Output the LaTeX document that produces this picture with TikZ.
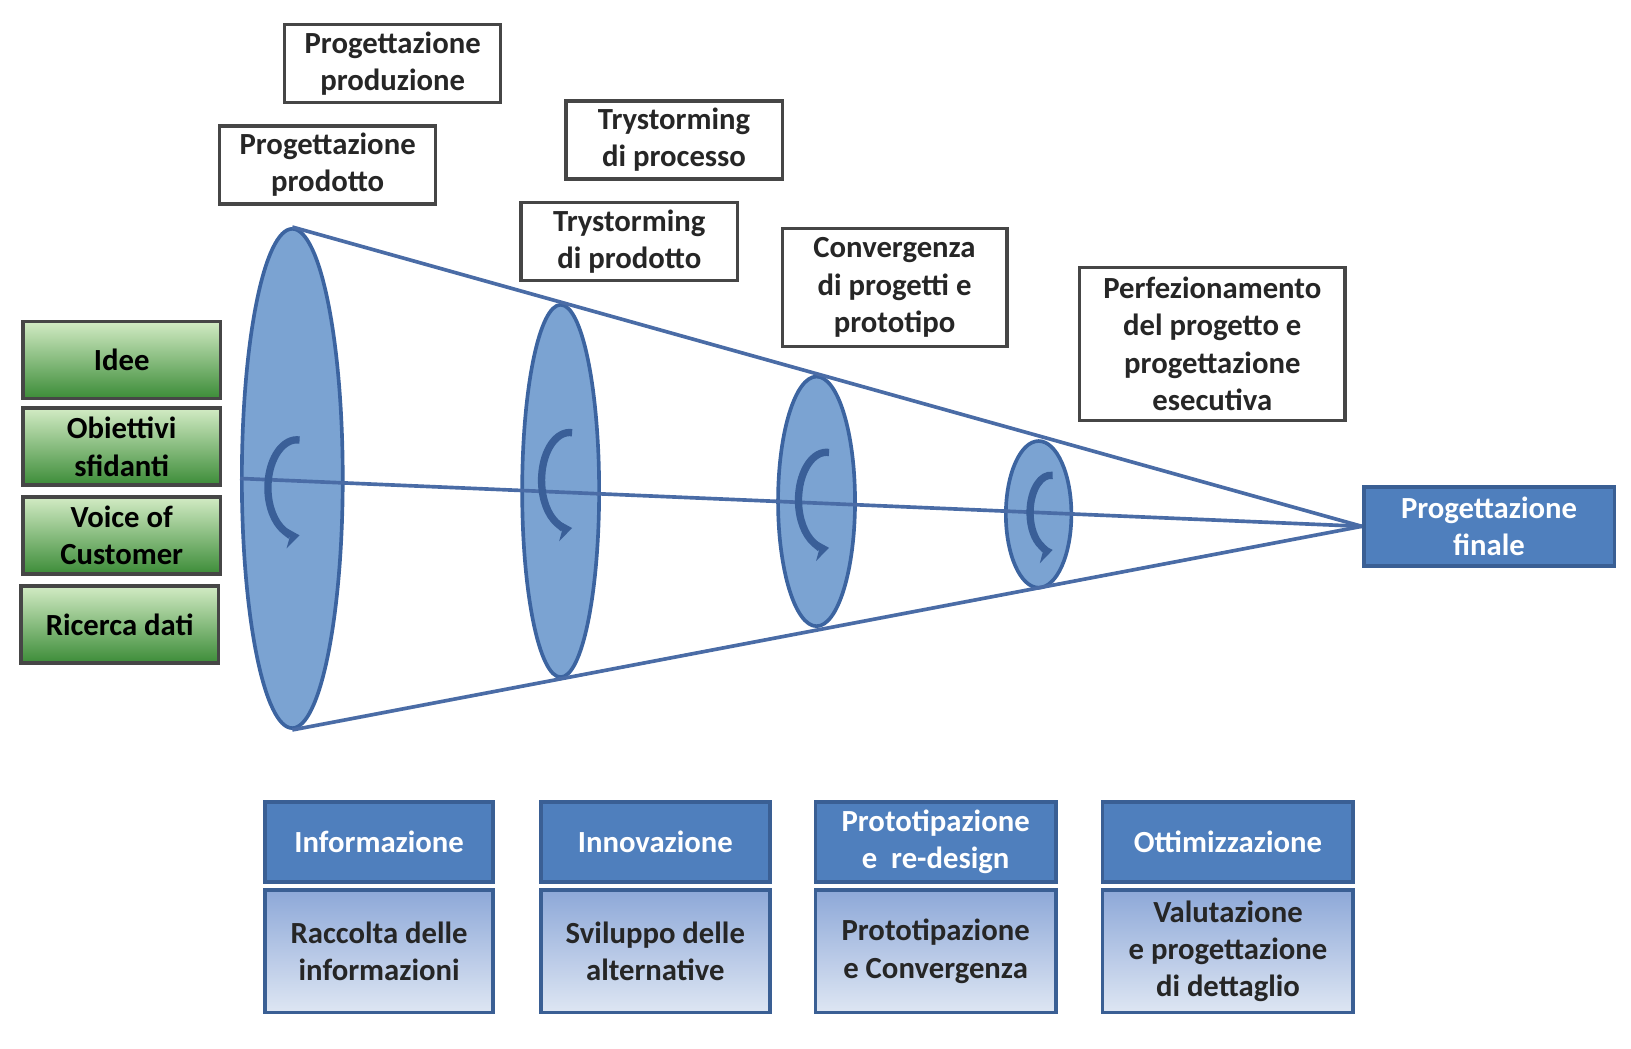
\documentclass[tikz,border=0pt]{standalone}
\usepackage{fontspec}
\setmainfont{Carlito}
\usetikzlibrary{positioning,shapes.geometric,arrows.meta}
\definecolor{boxline}{RGB}{70,70,70}
\definecolor{greentop}{RGB}{210,235,196}
\definecolor{greenbot}{RGB}{60,140,56}
\definecolor{headblue}{RGB}{79,127,189}
\definecolor{headline}{RGB}{58,95,148}
\definecolor{bodytop}{RGB}{141,168,216}
\definecolor{bodybot}{RGB}{222,230,243}
\definecolor{discfill}{RGB}{123,163,210}
\definecolor{discline}{RGB}{60,100,160}
\definecolor{coneline}{RGB}{74,108,166}
\definecolor{cycblue}{RGB}{58,95,152}
\tikzset{
  txt/.style={font=\bfseries\fontsize{8.4}{10.2}\selectfont, align=center, inner sep=0pt},
  topbox/.style={txt, rectangle, draw=boxline, line width=0.9pt, fill=white, text=black!85, minimum width=2.08cm, minimum height=0.75cm},
  greenbox/.style={txt, rectangle, draw=boxline, line width=1pt, top color=greentop, bottom color=greenbot, text=black, minimum width=1.9cm, minimum height=0.74cm},
  headbox/.style={txt, rectangle, draw=headline, line width=1pt, fill=headblue, text=white, minimum height=0.77cm},
  bodybox/.style={txt, rectangle, draw=headline, line width=1pt, top color=bodytop, bottom color=bodybot, text=black!85, minimum height=1.18cm},
  disc/.style={ellipse, draw=discline, line width=1pt, fill=discfill, inner sep=0pt},
  cone/.style={draw=coneline, line width=1pt},
  cyc/.style={draw=cycblue, line width=2pt, -{Stealth[length=4pt,width=6pt]}}
}
\begin{document}
\begin{tikzpicture}
  \useasboundingbox (0,0) rectangle (15.68,-10.08);
  % Top boxes
  \node (prodn) [topbox] at (3.775, -0.61) {Progettazione\\produzione};
  \node (prodt) [topbox] at (3.15, -1.585) {Progettazione\\prodotto};
  \node (tprc) [topbox] at (6.48, -1.345) {Trystorming\\di processo};
  \node (tprd) [topbox] at (6.05, -2.32) {Trystorming\\di prodotto};
  \node (conv) [topbox, minimum width=2.16cm, minimum height=1.13cm] at (8.60, -2.765) {Convergenza\\di progetti e\\prototipo};
  \node (perf) [topbox, minimum width=2.55cm, minimum height=1.47cm] at (11.655, -3.305) {Perfezionamento\\del progetto e\\progettazione\\esecutiva};
  % Inputs
  \node (idee) [greenbox] at (1.17, -3.46) {Idee};
  \node (obj) [greenbox] at (1.17, -4.295) {Obiettivi\\sfidanti};
  \node (voc) [greenbox] at (1.17, -5.15) {Voice of\\Customer};
  \node (ric) [greenbox] at (1.15, -6.005) {Ricerca dati};
  % Funnel
  \node (e1) [disc, minimum width=0.97cm, minimum height=4.80cm] at (2.81, -4.60) {};
  \node (e2) [disc, minimum width=0.74cm, minimum height=3.58cm] at (5.39, -4.72) {};
  \node (e3) [disc, minimum width=0.74cm, minimum height=2.40cm] at (7.85, -4.82) {};
  \node (e4) [disc, minimum width=0.63cm, minimum height=1.41cm] at (9.985, -4.945) {};
  \node (final) [headbox, minimum width=2.41cm, minimum height=0.76cm] at (14.315, -5.06) {Progettazione\\finale};
  \draw[cone] (e1.north) -- (final.west);
  \draw[cone] (e1.south) -- (final.west);
  \draw[cone] (e1.west) -- (final.west);
  % Cycle arrows
  \draw[cyc] (2.88, -4.23) arc[start angle=85, end angle=275, x radius=0.28, y radius=0.46];
  \draw[cyc] (5.50, -4.16) arc[start angle=85, end angle=275, x radius=0.27, y radius=0.46];
  \draw[cyc] (7.97, -4.35) arc[start angle=85, end angle=275, x radius=0.27, y radius=0.46];
  \draw[cyc] (10.12, -4.57) arc[start angle=85, end angle=275, x radius=0.20, y radius=0.36];
  % Phases
  \node (h1) [headbox, minimum width=2.19cm] at (3.645, -8.095) {Informazione};
  \node (h2) [headbox, minimum width=2.20cm] at (6.30, -8.095) {Innovazione};
  \node (h3) [headbox, minimum width=2.31cm] at (8.995, -8.095) {Prototipazione\\e\ \ re-design};
  \node (h4) [headbox, minimum width=2.41cm] at (11.805, -8.095) {Ottimizzazione};
  \node (b1) [bodybox, minimum width=2.19cm, below=0.04cm of h1] {Raccolta delle\\informazioni};
  \node (b2) [bodybox, minimum width=2.20cm, below=0.04cm of h2] {Sviluppo delle\\alternative};
  \node (b3) [bodybox, minimum width=2.31cm, below=0.04cm of h3] {Prototipazione\\e Convergenza};
  \node (b4) [bodybox, minimum width=2.41cm, below=0.04cm of h4] {Valutazione\\e progettazione\\di dettaglio};
\end{tikzpicture}
\end{document}
